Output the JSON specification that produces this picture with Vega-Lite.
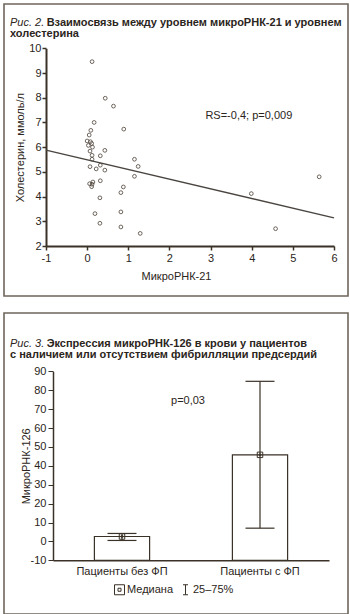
{
  "$schema": "https://vega.github.io/schema/vega-lite/v6.json",
  "padding": {"left": 3, "top": 3, "right": 0, "bottom": 0},
  "spacing": 15,
  "background": "white",
  "config": {
    "font": "Liberation Sans",
    "view": {"stroke": "#6f665c", "strokeWidth": 1.6},
    "axis": {
      "domainColor": "#3a3127", "tickColor": "#3a3127", "labelColor": "#2b2520", "titleColor": "#2b2520",
      "labelFontSize": 11, "titleFontSize": 11, "titleFontWeight": "normal", "grid": false,
      "labelFont": "Liberation Sans", "titleFont": "Liberation Sans", "labelFlush": false, "labelOverlap": false
    },
    "title": {"fontSize": 11, "fontWeight": "bold", "anchor": "start", "frame": "group", "color": "#2b2520", "lineHeight": 11, "font": "Liberation Sans",
      "subtitleFont": "Liberation Sans", "subtitleFontSize": 11, "subtitleFontStyle": "italic", "subtitleFontWeight": "normal", "subtitleColor": "#2b2520", "subtitlePadding": -22}
  },
  "vconcat": [
    {
      "width": 344,
      "height": 292,
      "title": {"text": ["\u200b\u00a0\u00a0\u00a0\u00a0\u00a0\u00a0\u00a0\u00a0\u00a0\u00a0\u00a0\u00a0Взаимосвязь между уровнем микроРНК-21 и уровнем", "холестерина"], "subtitle": "Рис. 2.", "offset": -35, "dx": 6},
      "layer": [
        {
          "data": {"values": [
            {"x": 0.12, "y": 9.46}, {"x": 0.44, "y": 7.98}, {"x": 0.64, "y": 7.66}, {"x": 0.17, "y": 7.0},
            {"x": 0.89, "y": 6.73}, {"x": 0.09, "y": 6.68}, {"x": 0.05, "y": 6.49}, {"x": 0.0, "y": 6.25},
            {"x": 0.08, "y": 6.22}, {"x": 0.11, "y": 6.15}, {"x": 0.03, "y": 6.07}, {"x": 0.13, "y": 6.0},
            {"x": 0.07, "y": 5.84}, {"x": 0.43, "y": 5.87}, {"x": 0.12, "y": 5.67}, {"x": 0.32, "y": 5.65},
            {"x": 0.12, "y": 5.51}, {"x": 1.15, "y": 5.51}, {"x": 0.32, "y": 5.27}, {"x": 1.24, "y": 5.22},
            {"x": 0.07, "y": 5.21}, {"x": 0.22, "y": 5.12}, {"x": 0.43, "y": 5.07}, {"x": 1.15, "y": 4.82},
            {"x": 0.32, "y": 4.64}, {"x": 0.14, "y": 4.59}, {"x": 0.06, "y": 4.52}, {"x": 0.12, "y": 4.5},
            {"x": 0.11, "y": 4.4}, {"x": 0.88, "y": 4.39}, {"x": 0.82, "y": 4.16}, {"x": 0.31, "y": 3.95},
            {"x": 0.19, "y": 3.31}, {"x": 0.82, "y": 3.38}, {"x": 0.31, "y": 2.92}, {"x": 0.82, "y": 2.77},
            {"x": 1.29, "y": 2.51}, {"x": 3.99, "y": 4.12}, {"x": 4.58, "y": 2.7}, {"x": 5.64, "y": 4.8}
          ]},
          "mark": {"type": "point", "shape": "circle", "filled": false, "size": 14, "strokeWidth": 0.8, "color": "#4a4036", "opacity": 1},
          "encoding": {
            "x": {"field": "x", "type": "quantitative",
              "scale": {"domain": [-1, 6], "range": [42, 330], "nice": false, "zero": false},
              "axis": {"title": "МикроРНК-21", "offset": -50, "values": [-1, 0, 1, 2, 3, 4, 5, 6], "tickSize": 4, "labelPadding": 2,
                "domainWidth": 2, "tickWidth": 1.5, "titleX": 172, "titleY": 30, "titleBaseline": "middle", "labelOverlap": false,
                "labelExpr": "replace(datum.label, '−', '-')"}},
            "y": {"field": "y", "type": "quantitative",
              "scale": {"domain": [2, 10], "range": [242, 44.3], "nice": false, "zero": false},
              "axis": {"title": "Холестерин, ммоль/л", "offset": -42, "tickCount": 9, "tickSize": 4, "labelPadding": 1,
                "domainWidth": 2, "tickWidth": 1.5, "titleX": -26, "titleBaseline": "middle", "labelOverlap": false, "labelBound": false}}
          }
        },
        {
          "data": {"values": [{"x": -1, "y": 5.88}, {"x": 6, "y": 3.14}]},
          "mark": {"type": "line", "color": "#4a4540", "strokeWidth": 1.4},
          "encoding": {
            "x": {"field": "x", "type": "quantitative"},
            "y": {"field": "y", "type": "quantitative"}
          }
        },
        {
          "data": {"values": [{"x": 3.93, "y": 7.26, "label": "RS=-0,4; p=0,009"}]},
          "mark": {"type": "text", "fontSize": 11, "color": "#2b2520", "font": "Liberation Sans"},
          "encoding": {
            "x": {"field": "x", "type": "quantitative"},
            "y": {"field": "y", "type": "quantitative"},
            "text": {"field": "label"}
          }
        }
      ]
    },
    {
      "width": 344,
      "height": 301,
      "title": {"text": ["\u200b\u00a0\u00a0\u00a0\u00a0\u00a0\u00a0\u00a0\u00a0\u00a0\u00a0\u00a0\u00a0Экспрессия микроРНК-126 в крови у пациентов", "с наличием или отсутствием фибрилляции предсердий"], "subtitle": "Рис. 3.", "offset": -47, "dx": 6},
      "data": {"values": [
        {"group": "Пациенты без ФП", "median": 2.6, "q1": 0.5, "q3": 4.2, "stat": "Медиана"},
        {"group": "Пациенты с ФП", "median": 45.8, "q1": 7.0, "q3": 84.7, "stat": "Медиана"}
      ]},
      "layer": [
        {
          "mark": {"type": "bar", "fill": "white", "stroke": "#3a3127", "strokeWidth": 1.2, "width": {"band": 0.4}},
          "encoding": {
            "x": {"field": "group", "type": "nominal", "sort": null,
              "scale": {"range": [49, 325], "paddingInner": 0, "paddingOuter": 0},
              "axis": {"title": null, "offset": -53.7, "tickSize": -5, "labelPadding": 10, "domainWidth": 1.5, "tickWidth": 1, "labelAngle": 0}},
            "y": {"field": "median", "type": "quantitative",
              "scale": {"domain": [-10, 90], "range": [247.3, 58.3], "nice": false, "zero": false},
              "axis": {"title": "МикроРНК-126", "offset": -49, "values": [-10, 0, 10, 20, 30, 40, 50, 60, 70, 80, 90], "tickCount": 11, "tickSize": 5, "labelPadding": 2,
                "domainWidth": 1.5, "tickWidth": 1, "titleX": -27, "titleBaseline": "middle", "labelOverlap": false, "labelBound": false,
                "labelExpr": "replace(datum.label, '−', '-')"}},
            "y2": {"datum": -10}
          }
        },
        {
          "mark": {"type": "rule", "color": "#3a3127", "strokeWidth": 1.2},
          "encoding": {
            "x": {"field": "group", "type": "nominal", "sort": null},
            "y": {"field": "q1", "type": "quantitative"},
            "y2": {"field": "q3"}
          }
        },
        {
          "mark": {"type": "tick", "orient": "horizontal", "size": 29, "thickness": 1.2, "color": "#3a3127", "opacity": 1},
          "encoding": {
            "x": {"field": "group", "type": "nominal", "sort": null},
            "y": {"field": "q1", "type": "quantitative"}
          }
        },
        {
          "mark": {"type": "tick", "orient": "horizontal", "size": 29, "thickness": 1.2, "color": "#3a3127", "opacity": 1},
          "encoding": {
            "x": {"field": "group", "type": "nominal", "sort": null},
            "y": {"field": "q3", "type": "quantitative"}
          }
        },
        {
          "mark": {"type": "point", "filled": false, "size": 30, "strokeWidth": 1, "color": "#3a3127", "opacity": 1},
          "encoding": {
            "x": {"field": "group", "type": "nominal", "sort": null},
            "y": {"field": "median", "type": "quantitative"},
            "shape": {"field": "stat", "type": "nominal",
              "scale": {"domain": ["Медиана", "25–75%"], "range": ["M-1,-1H1V1H-1Z M-0.3,-0.3H0.3V0.3H-0.3Z", "M0,-1V1M-0.5,-1H0.5M-0.5,1H0.5"]},
              "legend": {"title": null, "orient": "none", "legendX": 110, "legendY": 580, "direction": "horizontal",
                "symbolSize": 100, "symbolStrokeColor": "#3a3127", "symbolFillColor": "white", "symbolStrokeWidth": 1,
                "labelFontSize": 11, "labelColor": "#2b2520", "labelOffset": 2, "columnPadding": 6, "padding": 0, "labelFont": "Liberation Sans"}}
          }
        },
        {
          "data": {"values": [{"group": "Пациенты без ФП", "y": 74.4, "label": "p=0,03"}]},
          "mark": {"type": "text", "fontSize": 11, "color": "#2b2520", "dx": -3, "font": "Liberation Sans"},
          "encoding": {
            "x": {"field": "group", "type": "nominal", "bandPosition": 1},
            "y": {"field": "y", "type": "quantitative"},
            "text": {"field": "label"}
          }
        }
      ]
    }
  ]
}
